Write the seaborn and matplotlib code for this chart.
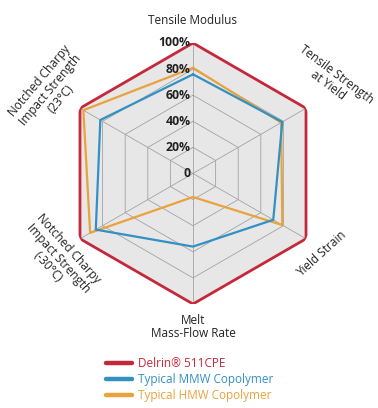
import numpy as np
import pandas as pd
import matplotlib
matplotlib.use("Agg")
import matplotlib.pyplot as plt
import matplotlib.transforms as mtransforms
from matplotlib.lines import Line2D
import seaborn as sns

# data (percent of Delrin 511CPE)
categories = ["Tensile Modulus", "Tensile Strength\nat Yield", "Yield Strain",
              "Melt\nMass-Flow Rate", "Notched Charpy\nImpact Strength\n(-30°C)",
              "Notched Charpy\nImpact Strength\n(23°C)"]
series_names = ["Delrin® 511CPE", "Typical MMW Copolymer", "Typical HMW Copolymer"]
delrin = [100, 100, 100, 100, 100, 100]
mmw = [76, 79, 71, 56, 86, 82]
hmw = [81, 78, 79, 18, 91, 97]
ring_ticks = [0, 20, 40, 60, 80, 100]
ring_labels = ["0", "20%", "40%", "60%", "80%", "100%"]

colors = {"Delrin® 511CPE": "#c5283a",
          "Typical MMW Copolymer": "#3390c2",
          "Typical HMW Copolymer": "#e9a23c"}

sns.set_style("white")
plt.rcParams["font.family"] = ["Open Sans", "DejaVu Sans"]

n = len(categories)
theta = np.linspace(0, 2 * np.pi, n, endpoint=False)
theta_c = np.append(theta, 2 * np.pi)

rows = []
for name, vals in zip(series_names, [delrin, mmw, hmw]):
    vals_c = list(vals) + [vals[0]]
    for t, v in zip(theta_c, vals_c):
        rows.append({"theta": t, "value": v, "series": name})
df = pd.DataFrame(rows)

W, H = 378, 408
fig = plt.figure(figsize=(W / 100, H / 100), dpi=100)
cx, cy, rad = 193, 173.5, 130.5
ax = fig.add_axes([(cx - rad) / W, 1 - (cy + rad) / H, 2 * rad / W, 2 * rad / H],
                  projection="polar")
ax.set_theta_offset(np.pi / 2)
ax.set_theta_direction(-1)
ax.set_ylim(0, 100)
ax.grid(False)
ax.set_xticks([])
ax.set_yticks([])
ax.spines["polar"].set_visible(False)
ax.set_facecolor("none")

# hexagon background and grid
ax.fill(theta_c, [100] * (n + 1), color="#e7e7e7", zorder=0)
for r in ring_ticks[1:-1]:
    ax.plot(theta_c, [r] * (n + 1), color="#a3a3a3", lw=0.6, zorder=1)
for t in theta:
    ax.plot([t, t], [0, 100], color="#a3a3a3", lw=0.6, zorder=1)

sns.lineplot(data=df, x="theta", y="value", hue="series", palette=colors,
             hue_order=series_names[::-1], sort=False, estimator=None,
             linewidth=1.6, legend=False, ax=ax, zorder=3)
for line in ax.get_lines()[-3:]:
    if line.get_color() == colors["Delrin® 511CPE"]:
        line.set_linewidth(2.0)

# ring labels along the top axis
off = mtransforms.offset_copy(ax.transData, fig=fig, x=-2.5, y=0, units="dots")
for r, lab in zip(ring_ticks, ring_labels):
    ax.text(0, r, lab, transform=off, ha="right", va="center",
            fontsize=8.8, fontweight="bold", color="#222222", zorder=5)

# category labels
label_pos = [(193, 20, 0), (332, 80, -37), (322, 254, 42),
             (193, 327, 0), (58, 258, -48), (50, 90, 50)]
for lab, (px, py, rot) in zip(categories, label_pos):
    fig.text(px / W, 1 - py / H, lab, ha="center", va="center", rotation=rot,
             rotation_mode="anchor", fontsize=8.5, color="#222222",
             linespacing=1.05)

# legend
handles = [Line2D([0], [0], color=colors[s], lw=3.2) for s in series_names]
leg = fig.legend(handles, series_names, loc="upper left",
                 bbox_to_anchor=(100 / W, 1 - 351 / H), frameon=False,
                 fontsize=8.5, handlelength=2.2, handletextpad=0.5,
                 labelspacing=0.25, borderpad=0)
for txt, s in zip(leg.get_texts(), series_names):
    txt.set_color(colors[s])

fig.savefig("out.png", dpi=100)
